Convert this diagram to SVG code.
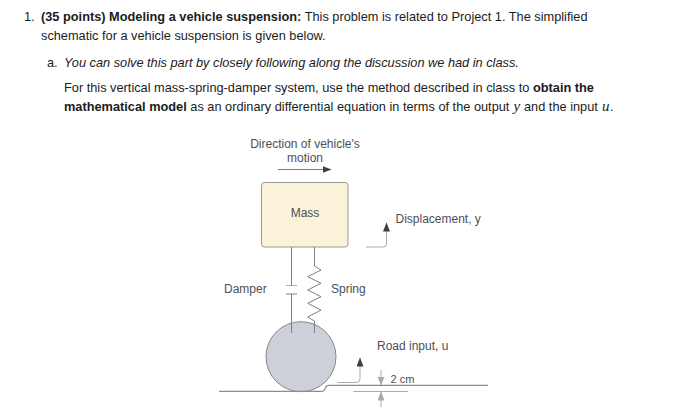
<svg xmlns="http://www.w3.org/2000/svg" width="697" height="415" viewBox="0 0 697 415">
<defs>
<marker id="dark" markerUnits="userSpaceOnUse" markerWidth="10" markerHeight="9" refX="8.500" refY="3.500" orient="auto"><path d="M0 0L9 3.500L0 7Z" fill="#3a414a"/></marker>
<marker id="grey" markerUnits="userSpaceOnUse" markerWidth="10" markerHeight="9" refX="8.500" refY="3.500" orient="auto"><path d="M0 0L9 3.500L0 7Z" fill="#a3a9b4"/></marker>
</defs>
<style>
.t{font-family:"Liberation Sans",Arial,sans-serif;font-size:12.78px;fill:#1c1c1c}
.d{font-family:"Liberation Sans",Arial,sans-serif;font-size:12px;fill:#4b4f57}
.s{font-size:11px}
.b{font-weight:700}
.i{font-style:italic}
.m{font-family:"Liberation Serif","DejaVu Serif",serif;font-style:italic;font-size:15px}
.l{fill:none;stroke:#7b7f87;stroke-width:1}
.g{fill:none;stroke:#a9acb2;stroke-width:1}
.r{fill:none;stroke:#8a8d92;stroke-width:1.2}
</style>
<rect width="697" height="415" fill="#fff"/>
<g id="problem-text">
<text class="t" x="24" y="21">1.</text>
<text class="t" x="41" y="21"><tspan class="b">(35 points) Modeling a vehicle suspension:</tspan> This problem is related to Project 1. The simplified</text>
<text class="t" x="41" y="40">schematic for a vehicle suspension is given below.</text>
<text class="t" x="47" y="67">a.</text>
<text class="t i" x="64" y="67">You can solve this part by closely following along the discussion we had in class.</text>
<text class="t" x="64" y="92">For this vertical mass-spring-damper system, use the method described in class to <tspan class="b">obtain the</tspan></text>
<text class="t" x="64" y="111"><tspan class="b">mathematical model</tspan> as an ordinary differential equation in terms of the output <tspan class="m" x="513.500">y</tspan><tspan x="524">and the input</tspan><tspan class="m" x="602">u</tspan><tspan x="610">.</tspan></text>
</g>
<g id="motion-label">
<text class="d" x="305" y="148" text-anchor="middle">Direction of vehicle's</text>
<text class="d" x="305" y="162" text-anchor="middle">motion</text>
</g>
<g id="mass">
<rect x="261.500" y="182.500" width="86.500" height="64.500" rx="3" fill="#faf3da" stroke="#9a9a94"/>
<text class="d" x="305" y="217" text-anchor="middle">Mass</text>
</g>
<g id="wheel"><circle cx="301" cy="356.700" r="35" fill="#cdd0d9" stroke="#85878d"/></g>
<g id="damper">
<path class="g" d="M286 285.500H297"/>
<path class="l" d="M286 294H297"/>
<text class="d" x="224" y="293">Damper</text>
</g>
<g id="spring"><text class="d" x="331" y="293">Spring</text></g>
<g id="displacement-label"><text class="d" x="395.500" y="223">Displacement, y</text></g>
<g id="road-label"><text class="d" x="377" y="350">Road input, u</text></g>
<g id="height-label"><text class="d s" x="390.500" y="383">2 cm</text></g>
<g id="road">
<path class="r" d="M219 391.300H322Q324 391.300 325 389L325.500 387.500Q326 385.300 329 385.300H488"/>
<path class="g" d="M353.500 391.500H408"/>
</g>
<g id="connectors">
<path class="l" d="M278 169.500H331" marker-end="url(#dark)"/>
<path class="g" d="M366 247H383Q386.500 247 386.500 244V223" marker-end="url(#dark)"/>
<path class="g" d="M337.500 382.500H356Q360 382.500 360 379V358" marker-end="url(#dark)"/>
<path class="l" d="M291.500 247V285.500M291.500 294V333"/>
<path class="l" d="M314.500 247V266L321 270L307.700 276.700L321 283.300L307.700 290L321 296.700L307.700 303.300L321 310L307.700 317L314.500 321V333"/>
<path class="g" d="M381 370V385" marker-end="url(#grey)"/>
<path class="g" d="M381 407V392" marker-end="url(#grey)"/>
</g>
</svg>
